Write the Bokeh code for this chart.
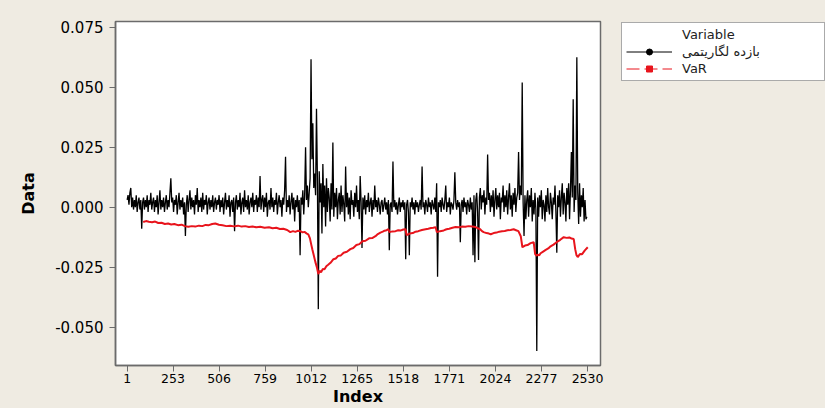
from bokeh.plotting import figure
from bokeh.layouts import row
from bokeh.models import (ColumnDataSource, Legend, LegendItem, FixedTicker,
                          PrintfTickFormatter, Range1d)
from bokeh.embed import file_html
from bokeh.resources import INLINE

# ---- data ----
# log returns in thousandths (x 0.001), one reading every 5 observations
returns_milli = [
    3, 5, 1, 6, 8, 0, 4, -1, 3, 0, 5, -2, 2, 4, -1, 3, -9, 2, 4, -1,
    3, 0, 5, -2, 3, 1, 6, -1, 2, 4, -2, 3, 0, 5, -3, 2, 7, -1, 3, 0,
    4, -2, 2, 5, -1, 3, 0, 6, 12, 2, 4, -2, 3, 1, 5, -3, 2, 6, -1, 3,
    0, 4, -3, 2, -12, 1, 5, -2, 3, 7, -1, 4, 0, 3, -3, 5, 1, 8, -2, 3,
    0, 4, -2, 6, -1, 3, 1, 5, -3, 2, 4, -1, 3, 0, 5, -2, 2, 4, -1, 3,
    1, 5, -2, 3, 0, 4, -3, 2, 6, -1, 3, 0, 5, -4, 2, 3, -2, 4, -10, 2,
    5, -1, 3, 0, 6, -3, 2, 4, -2, 7, 0, 3, -1, 5, -3, 2, 4, 0, 6, -2,
    3, 1, 5, -2, 4, 0, 13, -1, 3, 5, -2, 4, 0, 6, -4, 2, 3, -1, 8, 0,
    4, -2, 3, 1, 6, -3, 2, 5, 0, 3, -4, 4, 1, 7, 21, -2, 3, 0, 5, -3,
    2, 6, -1, 4, -6, 3, 0, 5, -2, 3, -20, 4, 1, 7, -3, 5, 25, 3, 9, 0,
    6, 12, 61.7, 20, 35, 8, 14, 5, 41, 12, -42.5, 15, 2, 10, -11, 18, 0, 9, -8, 12,
    -2, 8, 4, -6, 10, -1, 27, -4, 6, 0, 8, -5, 3, 6, -3, 9, -2, 5, 1, -6,
    17, 0, 6, -3, 4, -5, 7, 1, 3, -4, 6, 0, 9, -2, 3, -5, 13, 2, -17, 4,
    -1, 5, -3, 3, 0, 6, -2, 2, 4, -4, 3, -1, 9, 0, 3, -2, 4, 1, -3, 2,
    3, -2, 1, 4, -1, 2, -3, 3, -18, 1, 2, -2, 19, 0, 3, -1, 2, -3, 1, 4,
    -2, 2, 0, 3, -1, 2, -21.7, 1, 3, -2, -20, 2, 0, 4, -1, 2, -3, 3, 0, 2,
    -2, 1, 3, -1, 17, 0, 2, -3, 3, 1, -2, 4, 0, 2, -3, 3, 1, -1, 4, -2,
    10, -29, 2, 0, 3, -2, 4, 1, -1, 3, 9, -2, 2, 0, 4, -3, 2, 1, -1, 3,
    14.6, 2, -1, 3, 0, 2, -14.6, 1, 3, -2, 4, 0, 2, -3, 3, 1, -2, 4, -1, 2,
    -20, 5, -23, 3, 6, -2, -22, 4, 8, -1, 5, 2, 7, -3, 4, 1, 22, 3, 6, -2,
    5, 0, 7, -4, 3, 8, -1, 5, 0, 6, -5, 4, 2, 9, -2, 5, 0, 7, -3, 4,
    10, -1, 5, -4, 6, 1, 8, -2, 4, 6, 23, 3, 9, 5, 52, 2, -12, 5, -5, 3,
    7, -4, 5, 0, 8, -6, 3, -3, 6, -1, -60, 4, -4, 5, 0, 7, -5, 3, 1, -6,
    5, -2, 8, 0, -3, 6, 2, -5, 4, 1, 9, -2, -19, 5, 0, 7, -4, 4, 10, -3,
    6, 2, -6, 8, 1, 10, -5, 7, 23, 4, 45, -2, 9, 3, 62.5, 6, -7, 10, -4, 5,
    0, 8, -6, 3, -5, -4,
]
ret_step = 5
ret_index = [1 + ret_step * k for k in range(len(returns_milli))]
returns = [v / 1000.0 for v in returns_milli]

# VaR (thousandths) at the observation numbers where it was read
var_index = [
    89, 105, 120, 138, 155, 172, 190, 208, 226, 243, 260, 280, 300, 318, 337,
    356, 375, 395, 414, 432, 450, 468, 485, 505, 525, 546, 567, 588, 610, 630,
    650, 670, 690, 711, 732, 756, 780, 800, 820, 840, 859, 880, 897, 912, 925,
    940, 952, 965, 975, 988, 996, 1005, 1012, 1018, 1026, 1035, 1043, 1051,
    1058, 1066, 1075, 1085, 1095, 1105, 1118, 1134, 1147, 1160, 1175, 1190,
    1208, 1227, 1243, 1260, 1277, 1293, 1310, 1330, 1347, 1365, 1378, 1392,
    1405, 1415, 1426, 1436, 1442, 1458, 1475, 1490, 1505, 1518, 1530, 1536,
    1553, 1570, 1585, 1600, 1620, 1640, 1655, 1670, 1683, 1695, 1702, 1720,
    1740, 1755, 1770, 1788, 1805, 1822, 1840, 1858, 1877, 1896, 1915, 1928,
    1940, 1950, 1959, 1975, 1988, 1998, 2014, 2030, 2045, 2060, 2075, 2090,
    2107, 2124, 2137, 2150, 2163, 2172, 2186, 2200, 2217, 2234, 2242, 2249,
    2256, 2264, 2272, 2286, 2300, 2314, 2327, 2343, 2360, 2380, 2399, 2415,
    2430, 2442, 2454, 2462, 2469, 2476, 2488, 2500, 2515, 2531,
]
var_milli = [
    -6.2, -5.8, -6.1, -6.3, -6.0, -6.6, -6.5, -7.0, -6.8, -7.2, -7.0, -7.5,
    -7.3, -7.9, -8.2, -7.9, -8.1, -7.7, -7.9, -7.4, -7.5, -7.0, -6.8, -7.3,
    -7.5, -7.9, -7.7, -8.0, -7.7, -8.1, -7.9, -8.3, -8.1, -8.4, -8.2, -8.6,
    -8.4, -8.8, -8.6, -9.1, -9.0, -9.5, -10.4, -10.0, -10.3, -9.8, -10.0,
    -10.5, -10.3, -11.0, -11.3, -13.0, -15.5, -17.5, -20.0, -22.9, -25.0,
    -27.9, -26.5, -27.2, -25.8, -25.9, -24.6, -24.0, -23.2, -21.7, -21.4,
    -20.3, -20.1, -19.0, -18.6, -17.5, -17.0, -15.8, -15.4, -14.2, -14.0,
    -13.0, -12.9, -12.1, -11.2, -10.6, -10.2, -9.8, -9.6, -9.2, -10.4, -10.1,
    -10.0, -9.6, -9.7, -9.3, -9.2, -11.7, -11.0, -10.8, -10.2, -10.0, -9.5,
    -9.2, -9.0, -8.7, -8.6, -8.3, -10.4, -10.0, -9.7, -9.2, -9.0, -8.6, -8.3,
    -8.4, -8.1, -8.2, -7.9, -8.1, -8.3, -8.8, -9.2, -10.0, -10.4, -10.8,
    -11.0, -11.3, -10.8, -10.6, -10.2, -10.0, -9.9, -9.6, -9.5, -9.2, -9.6,
    -10.0, -12.1, -16.7, -16.0, -15.8, -15.0, -14.6, -19.6, -20.2, -19.8,
    -20.1, -19.2, -18.5, -17.8, -17.2, -16.3, -15.6, -14.6, -13.6, -12.5,
    -12.8, -12.6, -13.1, -13.3, -17.5, -20.0, -20.8, -19.5, -19.6, -18.0,
    -16.7,
]
var_values = [v / 1000.0 for v in var_milli]

x_ticks = [1, 253, 506, 759, 1012, 1265, 1518, 1771, 2024, 2277, 2530]
y_ticks = [-0.050, -0.025, 0.000, 0.025, 0.050, 0.075]

series_names = ["بازده لگاریتمی", "VaR"]
legend_title = "Variable"

# ---- styling ----
BG = "#efebe2"
FRAME = "#6b6b6b"
RED = "#e8141c"
FONT = "DejaVu Sans"

p = figure(width=620, height=408, output_backend="svg", toolbar_location=None,
           x_range=Range1d(-63, 2601), y_range=Range1d(-0.0660, 0.0774),
           min_border_left=115, min_border_right=20, min_border_top=21,
           min_border_bottom=41,
           background_fill_color="white", border_fill_color=BG,
           outline_line_color=FRAME, outline_line_width=1.5,
           styles={"background-color": BG})
p.grid.visible = False

src_ret = ColumnDataSource(dict(x=ret_index, y=returns))
src_var = ColumnDataSource(dict(x=var_index, y=var_values))
p.line("x", "y", source=src_ret, line_color="black", line_width=1.3)
p.line("x", "y", source=src_var, line_color=RED, line_width=2)

for ax in (p.xaxis[0], p.yaxis[0]):
    ax.axis_line_color = FRAME
    ax.axis_line_width = 1.5
    ax.major_tick_line_color = FRAME
    ax.major_tick_out = 6
    ax.major_tick_in = 0
    ax.minor_tick_line_color = None
    ax.major_label_text_font = FONT
    ax.major_label_text_color = "black"
    ax.axis_label_text_font = FONT
    ax.axis_label_text_font_style = "bold"
    ax.axis_label_text_color = "black"

p.xaxis.ticker = FixedTicker(ticks=x_ticks)
p.xaxis.major_label_text_font_size = "12.5px"
p.xaxis.major_label_standoff = 2
p.xaxis.axis_label = "Index"
p.xaxis.axis_label_text_font_size = "16px"
p.xaxis.axis_label_standoff = 1

p.yaxis.ticker = FixedTicker(ticks=y_ticks)
p.yaxis.formatter = PrintfTickFormatter(format="%.3f")
p.yaxis.major_label_text_font_size = "15px"
p.yaxis.major_label_standoff = 6
p.yaxis.axis_label = "Data"
p.yaxis.axis_label_text_font_size = "16px"
p.yaxis.axis_label_standoff = 14

# ---- legend panel (a second, axis-less figure to the right) ----
lg = figure(width=205, height=408, output_backend="svg", toolbar_location=None,
            x_range=Range1d(0, 1), y_range=Range1d(0, 1),
            x_axis_type=None, y_axis_type=None,
            min_border_left=0, min_border_right=0, min_border_top=21,
            min_border_bottom=41, background_fill_color=BG,
            border_fill_color=BG, outline_line_color=None,
            styles={"background-color": BG})
lg.grid.visible = False
off = ColumnDataSource(dict(x=[-10, -9], y=[-10, -10]))  # outside the view
r_title = lg.scatter("x", "y", source=off, alpha=0)
r1l = lg.line("x", "y", source=off, line_color="black", line_width=1)
r1m = lg.scatter("x", "y", source=off, marker="circle", size=8, color="black")
r2l = lg.line("x", "y", source=off, line_color=RED, line_width=1, line_dash="13 5")
r2m = lg.scatter("x", "y", source=off, marker="square", size=7, color=RED)

legend = Legend(items=[
    LegendItem(label=legend_title, renderers=[r_title]),
    LegendItem(label=series_names[0], renderers=[r1l, r1m]),
    LegendItem(label=series_names[1], renderers=[r2l, r2m]),
], location="top_left")
legend.glyph_width = 46
legend.glyph_height = 15
legend.label_height = 15
legend.label_width = 138
legend.label_standoff = 10
legend.padding = 4
legend.spacing = 2
legend.margin = 1
legend.border_line_color = "#555555"
legend.border_line_width = 1
legend.background_fill_color = "white"
legend.background_fill_alpha = 1
legend.label_text_font = FONT
legend.label_text_font_size = "13px"
legend.label_text_color = "#222222"
lg.add_layout(legend, "center")

layout = row(p, lg, spacing=0, styles={"background-color": BG})
open("out.html", "w").write(file_html(layout, INLINE))
